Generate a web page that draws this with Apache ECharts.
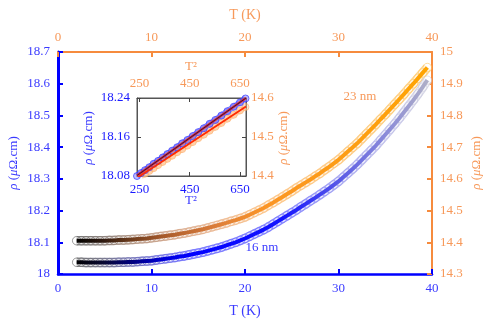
<!DOCTYPE html>
<html><head><meta charset="utf-8">
<script src="https://cdn.jsdelivr.net/npm/echarts@6/dist/echarts.min.js"></script>
<style>html,body{margin:0;padding:0;background:#fff}#c{width:491px;height:327px}</style>
</head><body><div id="c"></div>
<script>
// ---- data ----
const temps = [2,2.5,3,3.5,4,4.5,5,5.5,6,6.5,7,7.5,8,8.5,9,9.5,10,10.5,11,11.5,12,12.5,13,13.5,14,14.5,15,15.5,16,16.5,17,17.5,18,18.5,19,19.5,20,20.5,21,21.5,22,22.5,23,23.5,24,24.5,25,25.5,26,26.5,27,27.5,28,28.5,29,29.5,30,30.5,31,31.5,32,32.5,33,33.5,34,34.5,35,35.5,36,36.5,37,37.5,38,38.5,39,39.5];
const rho16nm = [
18.037,18.037,18.036,18.036,18.036,18.036,18.036,18.036,18.036,18.037,
18.037,18.038,18.038,18.039,18.040,18.041,18.042,18.044,18.046,18.048,
18.050,18.052,18.055,18.057,18.060,18.063,18.066,18.069,18.073,18.077,
18.081,18.085,18.090,18.095,18.100,18.106,18.112,18.119,18.126,18.133,
18.140,18.148,18.157,18.166,18.175,18.184,18.193,18.202,18.212,18.221,
18.231,18.240,18.250,18.260,18.270,18.281,18.292,18.305,18.318,18.331,
18.345,18.360,18.375,18.390,18.405,18.422,18.439,18.456,18.473,18.491,
18.510,18.529,18.548,18.568,18.589,18.611];
const rho23nm = [
14.405,14.405,14.405,14.405,14.405,14.405,14.405,14.406,14.406,14.407,
14.407,14.408,14.409,14.410,14.411,14.412,14.414,14.416,14.418,14.420,
14.422,14.424,14.427,14.429,14.432,14.435,14.438,14.441,14.445,14.449,
14.453,14.457,14.461,14.466,14.470,14.475,14.480,14.487,14.494,14.501,
14.508,14.517,14.525,14.534,14.543,14.552,14.561,14.571,14.580,14.589,
14.598,14.608,14.617,14.628,14.638,14.649,14.660,14.673,14.686,14.699,
14.712,14.727,14.742,14.757,14.772,14.788,14.803,14.819,14.835,14.851,
14.867,14.884,14.900,14.917,14.934,14.951];

const insetT2 = [240,256,272,289,306,324,342,361,380,400,420,441,462,484,506,529,552,576,600,625,650,672];
const insetRho16 = [18.080,18.086,18.092,18.098,18.105,18.111,18.118,18.125,18.132,18.139,18.147,18.154,18.162,18.170,18.178,18.187,18.195,18.204,18.213,18.222,18.231,18.239];
const insetRho23 = [null,14.399,14.406,14.413,14.420,14.428,14.436,14.444,14.452,14.461,14.469,14.478,14.487,14.497,14.506,14.516,14.526,14.536,14.547,14.557,14.568,14.577];
const fitT2 = [240, 674];
const fitRho16 = [18.081, 18.240];
const fitRho23 = [14.395, 14.578];

const insetTicksX = [250,450,650];

// ---- styling ----
const FONT = 'Liberation Serif';
const BLUE = '#0000ff', BLUE_TXT = '#3a3aff', ORANGE = '#f68b3d', ORANGE_TXT = '#f7995a';
const blueStops = [[2,'#000000'],[5,'#0a0a30'],[8,'#00007a'],[11,'#0000d0'],[14,'#0000ff'],[24,'#1414ff'],[30,'#5a5ae6'],[35,'#8c8cd8'],[40,'#b4b4c4']];
const orangeStops = [[2,'#000000'],[5,'#2e1a10'],[8,'#6e3c1c'],[12,'#b0602e'],[17,'#dc7e3c'],[22,'#fb9526'],[40,'#ffa500']];
function h2r(h){return [parseInt(h.slice(1,3),16),parseInt(h.slice(3,5),16),parseInt(h.slice(5,7),16)];}
function ramp(stops,t){
  if(t<=stops[0][0]) return h2r(stops[0][1]);
  for(let i=1;i<stops.length;i++){
    if(t<=stops[i][0]){const a=h2r(stops[i-1][1]),b=h2r(stops[i][1]);const f=(t-stops[i-1][0])/(stops[i][0]-stops[i-1][0]);return a.map((v,k)=>v+(b[k]-v)*f);}
  }
  return h2r(stops[stops.length-1][1]);
}
function rgb(c,w,a){w=w||0;const s=c.map(v=>Math.round(v+(255-v)*w));return a==null?'rgb('+s.join(',')+')':'rgba('+s.join(',')+','+a+')';}
function ring(vals,stops){return temps.map((t,i)=>({value:[t,vals[i]],itemStyle:{color:'rgba(255,255,255,0)',borderColor:rgb(ramp(stops,t),0.4,0.8),borderWidth:1}}));}
const zip=(a,b)=>a.map((v,i)=>[v,b[i]]);
const tFirst=temps[0], tLast=temps[temps.length-1];
function grad(stops,w,a){
  const cs=[];
  for(let k=0;k<=24;k++){const t=tFirst+(tLast-tFirst)*k/24;cs.push({offset:k/24,color:rgb(ramp(stops,t),w,a)});}
  return new echarts.graphic.LinearGradient(0,0,1,0,cs);
}
function band(yIdx,vals,stops){
  const d=zip(temps,vals);
  const base={type:'line',xAxisIndex:0,yAxisIndex:yIdx,showSymbol:false,symbol:'none',silent:true,data:d};
  return [
    Object.assign({},base,{z:1,lineStyle:{color:grad(stops,0.5,0.9),width:9.5}}),
    Object.assign({},base,{z:2,lineStyle:{color:'rgba(255,255,255,0.75)',width:7}}),
    {type:'scatter',xAxisIndex:0,yAxisIndex:yIdx,symbol:'circle',symbolSize:8.5,data:ring(vals,stops),z:3,silent:true},
    Object.assign({},base,{z:4,lineStyle:{color:grad(stops,0,1),width:4}})
  ];
}

const lbl=(color,extra)=>Object.assign({color:color,fontFamily:FONT,fontSize:13},extra||{});
function txt(x,y,text,color,rot,size){
  return {type:'text',x:x,y:y,rotation:rot||0,z:100,style:{text:text,fill:color,font:(size||13)+'px "'+FONT+'"',textAlign:'center',textVerticalAlign:'middle',rich:{i:{fontStyle:'italic',fontFamily:FONT,fontSize:size||13,fill:color}}}};
}

const chart = echarts.init(document.getElementById('c'),null,{renderer:'canvas'});
chart.setOption({
  animation:false,
  backgroundColor:'#fff',
  grid:[
    {left:58,top:52,width:374,height:222},
    {left:137,top:98,width:109,height:78,show:true,backgroundColor:'#fff',borderColor:'#555',borderWidth:1,z:20}
  ],
  xAxis:[
    {gridIndex:0,type:'value',min:0,max:40,interval:10,position:'bottom',
     axisLine:{show:true,onZero:false,lineStyle:{color:BLUE,width:2.5}},
     axisTick:{inside:true,length:5,lineStyle:{color:BLUE,width:2}},
     axisLabel:lbl(BLUE_TXT,{margin:8}),splitLine:{show:false}},
    {gridIndex:0,type:'value',min:0,max:40,interval:10,position:'top',
     axisLine:{show:true,onZero:false,lineStyle:{color:ORANGE,width:2}},
     axisTick:{inside:true,length:5,lineStyle:{color:ORANGE,width:2}},
     axisLabel:lbl(ORANGE_TXT,{margin:8}),splitLine:{show:false}},
    {gridIndex:1,type:'value',min:240,max:674,position:'bottom',z:21,
     axisLine:{show:true,onZero:false,lineStyle:{color:'#555',width:1}},
     axisTick:{inside:true,length:4,customValues:insetTicksX,lineStyle:{color:'#444'}},
     axisLabel:lbl('#1a1aff',{margin:7,customValues:insetTicksX}),splitLine:{show:false}},
    {gridIndex:1,type:'value',min:240,max:674,position:'top',z:21,
     axisLine:{show:true,onZero:false,lineStyle:{color:'#555',width:1}},
     axisTick:{inside:true,length:4,customValues:insetTicksX,lineStyle:{color:'#444'}},
     axisLabel:lbl(ORANGE_TXT,{margin:8,customValues:insetTicksX}),splitLine:{show:false}}
  ],
  yAxis:[
    {gridIndex:0,type:'value',min:18,max:18.7,interval:0.1,position:'left',
     axisLine:{show:true,onZero:false,lineStyle:{color:BLUE,width:3}},
     axisTick:{inside:true,length:5,lineStyle:{color:BLUE,width:2}},
     axisLabel:lbl(BLUE_TXT,{margin:8}),splitLine:{show:false}},
    {gridIndex:0,type:'value',min:14.3,max:15,interval:0.1,position:'right',
     axisLine:{show:true,onZero:false,lineStyle:{color:ORANGE,width:2}},
     axisTick:{inside:true,length:5,lineStyle:{color:ORANGE,width:2}},
     axisLabel:lbl(ORANGE_TXT,{margin:8}),splitLine:{show:false}},
    {gridIndex:1,type:'value',min:18.08,max:18.24,interval:0.08,position:'left',z:21,
     axisLine:{show:true,onZero:false,lineStyle:{color:'#555',width:1}},
     axisTick:{inside:true,length:4,lineStyle:{color:'#444'}},
     axisLabel:lbl('#1a1aff',{margin:7}),splitLine:{show:false}},
    {gridIndex:1,type:'value',min:14.4,max:14.6,interval:0.1,position:'right',z:21,
     axisLine:{show:true,onZero:false,lineStyle:{color:'#555',width:1}},
     axisTick:{inside:true,length:4,lineStyle:{color:'#444'}},
     axisLabel:lbl(ORANGE_TXT,{margin:5}),splitLine:{show:false}}
  ],
  series:[].concat(
    band(1,rho23nm,orangeStops),
    band(0,rho16nm,blueStops),
    [
    {type:'line',xAxisIndex:2,yAxisIndex:3,showSymbol:false,z:21,lineStyle:{color:'rgba(255,190,140,0.6)',width:6},data:zip(insetT2,insetRho23)},
    {type:'scatter',xAxisIndex:2,yAxisIndex:3,symbol:'circle',symbolSize:7,z:22,
     itemStyle:{color:'rgba(255,200,150,0.5)',borderColor:'rgba(255,165,90,0.7)',borderWidth:1},data:zip(insetT2,insetRho23)},
    {type:'line',xAxisIndex:2,yAxisIndex:2,showSymbol:false,z:21,lineStyle:{color:'rgba(110,110,255,0.7)',width:6},data:zip(insetT2,insetRho16)},
    {type:'scatter',xAxisIndex:2,yAxisIndex:2,symbol:'circle',symbolSize:7,z:22,
     itemStyle:{color:'rgba(110,110,255,0.55)',borderColor:'rgba(50,50,255,0.85)',borderWidth:1},data:zip(insetT2,insetRho16)},
    {type:'line',xAxisIndex:2,yAxisIndex:3,showSymbol:false,z:23,lineStyle:{color:'#ff2a00',width:1.8},data:zip(fitT2,fitRho23)},
    {type:'line',xAxisIndex:2,yAxisIndex:2,showSymbol:false,z:23,lineStyle:{color:'#ff2a00',width:2.2},data:zip(fitT2,fitRho16)},
    {type:'line',xAxisIndex:2,yAxisIndex:2,showSymbol:false,z:24,lineStyle:{color:'#101070',width:1},data:zip(fitT2,fitRho16)}
  ]),
  graphic:[
    txt(245,15,'T (K)',ORANGE_TXT,0,14),
    txt(245,311,'T (K)',BLUE_TXT,0,14),
    txt(14,163,'{i|ρ} ({i|μ}Ω.cm)',BLUE_TXT,Math.PI/2,13),
    txt(477,163,'{i|ρ} ({i|μ}Ω.cm)',ORANGE_TXT,Math.PI/2,13),
    txt(360,97,'23 nm',ORANGE_TXT,0,13),
    txt(262,248,'16 nm',BLUE_TXT,0,13),
    txt(191,67,'T²',ORANGE_TXT,0,13),
    txt(191,201,'T²',BLUE_TXT,0,13),
    txt(89,138,'{i|ρ} ({i|μ}Ω.cm)',BLUE_TXT,Math.PI/2,13),
    txt(284,138,'{i|ρ} ({i|μ}Ω.cm)',ORANGE_TXT,Math.PI/2,13)
  ]
});
</script></body></html>
